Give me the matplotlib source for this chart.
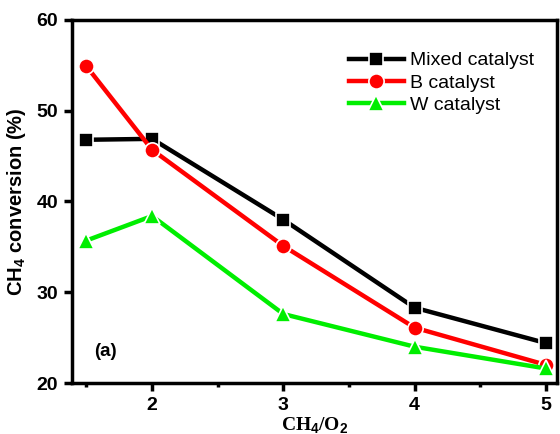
import matplotlib
matplotlib.use("Agg")
import matplotlib.pyplot as plt
from matplotlib.ticker import MultipleLocator

ratio = [1.5, 2, 3, 4, 5]
mixed = [46.8, 46.9, 38.0, 28.3, 24.4]
b_cat = [54.9, 45.7, 35.1, 26.1, 22.0]
w_cat = [35.7, 38.4, 27.6, 24.0, 21.6]
labels = ["Mixed catalyst", "B catalyst", "W catalyst"]

plt.rcParams['font.family'] = ['Liberation Sans', 'DejaVu Sans']
plt.rcParams['mathtext.fontset'] = 'custom'
plt.rcParams['mathtext.rm'] = 'Liberation Sans:bold'
plt.rcParams['mathtext.default'] = 'rm'

fig = plt.figure(figsize=(5.6, 4.34), dpi=100)
ax = fig.add_axes([0.1286, 0.1175, 0.866, 0.8365])

series = [(mixed, 'black', 's', 10), (b_cat, '#ff0000', 'o', 11), (w_cat, '#00ee00', '^', 11)]
for (vals, col, mk, ms), lab in zip(series, labels):
    ax.plot(ratio, vals, color=col, lw=3.2, marker=mk, ms=ms, mfc=col,
            mec='white', mew=1.2, label=lab)

ax.set_xlim(1.39, 5.085)
ax.set_ylim(20, 60)
ax.xaxis.set_minor_locator(MultipleLocator(0.5))
ax.yaxis.set_major_locator(MultipleLocator(10))
ax.set_xticks([2, 3, 4, 5])

for s in ax.spines.values():
    s.set_linewidth(2.5)
ax.tick_params(axis='both', which='major', direction='out', length=6, width=2.5,
               labelsize=14, top=False, right=False, pad=4)
ax.tick_params(axis='x', which='minor', direction='out', length=3, width=2.5, top=False)
for t in ax.get_xticklabels() + ax.get_yticklabels():
    t.set_fontweight('bold')

ax.set_ylabel("CH$_4$ conversion (%)", fontsize=14.5, fontweight='bold', labelpad=6)
ax.set_xlabel(r"CH$_{4}$/O$_{2}$", fontsize=14, fontweight='bold', labelpad=1)
ax.xaxis.label.set_fontfamily(['Liberation Serif'])

ax.text(0.045, 0.075, "(a)", transform=ax.transAxes, fontsize=13.5, fontweight='bold')

leg = ax.legend(loc='upper right', bbox_to_anchor=(0.98, 0.95), frameon=False,
                fontsize=14, handlelength=2.8, handletextpad=0.3, labelspacing=0.25,
                borderaxespad=0.3)
fig.savefig("out.png", dpi=100)
